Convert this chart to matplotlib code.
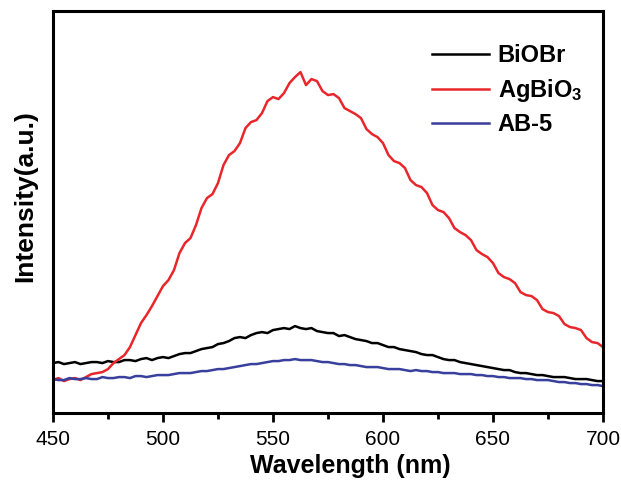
import matplotlib
matplotlib.use("Agg")
import numpy as np
import matplotlib.pyplot as plt
from matplotlib.ticker import MultipleLocator, NullLocator

plt.rcParams['font.family'] = ['Liberation Sans', 'DejaVu Sans']
plt.rcParams['mathtext.fontset'] = 'custom'
plt.rcParams['mathtext.rm'] = 'Liberation Sans:bold'
plt.rcParams['mathtext.it'] = 'Liberation Sans:bold'
plt.rcParams['mathtext.bf'] = 'Liberation Sans:bold'

# wavelength grid, 450-700 nm every 2.5 nm
wavelength = np.linspace(450, 700, 101)

agbio3 = [33, 35, 32, 34, 35, 33, 36, 39, 40, 41, 44, 50, 54, 58, 66, 78, 90, 98, 107, 117,
          127, 133, 143, 160, 170, 175, 188, 205, 215, 219, 230, 248, 258, 262, 270, 285, 291, 293,
          300, 312, 316, 314, 320, 330, 336, 341, 328, 334, 332, 322, 318, 319, 315, 305, 302, 299,
          295, 284, 279, 276, 270, 258, 252, 250, 245, 233, 228, 226, 220, 208, 203, 201, 195, 185,
          181, 178, 173, 163, 159, 156, 150, 140, 136, 134, 130, 121, 118, 117, 113, 104, 101, 100,
          97, 89, 86, 85, 83, 75, 71, 70, 66]

biobr = [50, 51, 49, 50, 51, 49, 50, 51, 51, 50, 52, 51, 51, 53, 53, 52, 54, 55, 53, 55,
         56, 55, 57, 59, 60, 60, 62, 64, 65, 66, 69, 70, 72, 75, 76, 75, 78, 80, 81, 80,
         83, 84, 85, 84, 87, 85, 84, 85, 82, 81, 80, 80, 77, 78, 76, 74, 73, 72, 70, 70,
         68, 66, 66, 64, 63, 62, 61, 59, 58, 58, 56, 54, 53, 53, 51, 50, 49, 48, 47, 46,
         45, 44, 43, 43, 41, 40, 40, 39, 38, 38, 37, 36, 36, 36, 35, 34, 34, 34, 33, 32, 32]

ab5 = [34, 33, 33, 35, 34, 34, 35, 34, 34, 36, 35, 35, 36, 36, 35, 37, 37, 36, 37, 38,
       38, 38, 39, 40, 40, 40, 41, 42, 42, 43, 44, 44, 45, 46, 47, 48, 49, 49, 50, 51,
       52, 52, 53, 53, 54, 53, 53, 53, 52, 51, 51, 50, 49, 49, 48, 48, 47, 46, 46, 46,
       45, 44, 44, 44, 43, 42, 43, 42, 42, 41, 41, 40, 40, 40, 39, 39, 39, 38, 38, 37,
       37, 36, 36, 35, 35, 35, 34, 34, 33, 33, 33, 32, 31, 31, 30, 30, 29, 29, 28, 28, 27]

labels = ['BiOBr', 'AgBiO$_3$', 'AB-5']
colors = ['black', '#e8262b', '#383f9c']

fig = plt.figure(figsize=(6.21, 4.82), dpi=100)
ax = fig.add_axes([0.0853, 0.143, 0.8857, 0.834])

for series, lab, col in zip([biobr, agbio3, ab5], labels, colors):
    ax.plot(wavelength, series, color=col, lw=1.8, label=lab)

ax.set_xlim(450, 700)
ax.set_ylim(0, 402)
ax.xaxis.set_major_locator(MultipleLocator(50))
ax.xaxis.set_minor_locator(MultipleLocator(25))
ax.yaxis.set_major_locator(NullLocator())
for s in ax.spines.values():
    s.set_linewidth(2.2)
ax.tick_params(axis='x', which='major', direction='out', length=6.5, width=2.0, labelsize=15, pad=6)
ax.tick_params(axis='x', which='minor', direction='out', length=4, width=2.0)

ax.set_xlabel('Wavelength (nm)', fontsize=18, fontweight='bold')
ax.xaxis.set_label_coords(0.54, -0.103)
ax.set_ylabel('Intensity(a.u.)', fontsize=19, fontweight='bold')
ax.yaxis.set_label_coords(-0.028, 0.54)

leg = ax.legend(loc='upper right', bbox_to_anchor=(0.992, 0.958), frameon=False,
                prop={'weight': 'bold', 'size': 17}, handlelength=2.45, handletextpad=0.35,
                labelspacing=0.4, borderpad=0.2)

fig.savefig('out.png', dpi=100)
